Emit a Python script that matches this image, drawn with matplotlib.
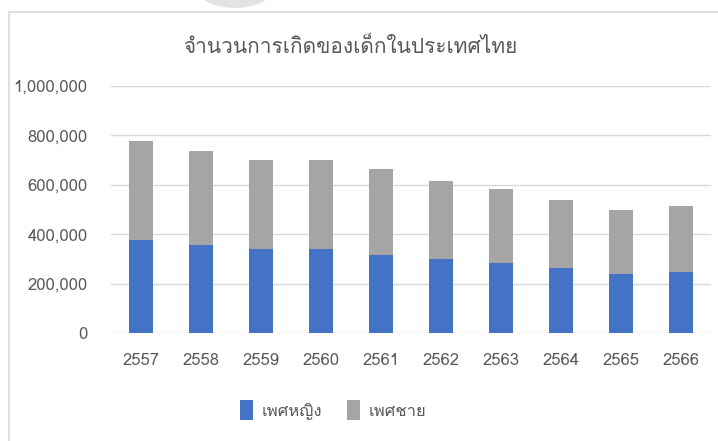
import matplotlib
matplotlib.use("Agg")
import matplotlib.pyplot as plt
from matplotlib import font_manager
from matplotlib.ft2font import FT2Font
from matplotlib.patches import Rectangle, Ellipse
import numpy as np

years = ['2557', '2558', '2559', '2560', '2561', '2562', '2563', '2564', '2565', '2566']
female = [375000, 355000, 340000, 340000, 318000, 300000, 283000, 262000, 241000, 247000]
male = [401000, 380000, 359000, 359000, 344000, 317000, 302000, 276000, 257000, 266000]
yticks = [0, 200000, 400000, 600000, 800000, 1000000]

title = 'จำนวนการเกิดของเด็กในประเทศไทย'
labels = ['เพศหญิง', 'เพศชาย']

# find a font that actually has Thai glyphs, if any is installed
thai = None
for f in font_manager.fontManager.ttflist:
    try:
        if 0x0E08 in FT2Font(f.fname).get_charmap():
            thai = f.name
            break
    except Exception:
        pass

installed = {f.name for f in font_manager.fontManager.ttflist}
fams = [n for n in ['Liberation Sans Narrow', thai, 'DejaVu Sans'] if n and n in installed]
plt.rcParams['font.family'] = fams

grey_txt = '#595959'
blue = '#4472C4'
grey = '#A5A5A5'

fig = plt.figure(figsize=(7.18, 4.41), dpi=100)

# chart border and the bit of watermark poking in at the top
fig.patches.append(Rectangle((9 / 718, -0.1), 1.2, 1 - 12 / 441 + 0.1, transform=fig.transFigure,
                             fill=False, edgecolor='#d9d9d9', lw=1.2))
fig.patches.append(Ellipse((235 / 718, 1 + 14 / 441), 80 / 718, 44 / 441, transform=fig.transFigure,
                           facecolor='#e3e3e3', edgecolor='none'))

ax = fig.add_axes([111 / 718, 1 - 333.3 / 441, 600 / 718, 247.5 / 441])
x = np.arange(len(years))
ax.bar(x, female, width=0.4, color=blue, label=labels[0], zorder=3)
ax.bar(x, male, width=0.4, bottom=female, color=grey, label=labels[1], zorder=3)

ax.set_xlim(-0.5, len(years) - 0.5)
ax.set_ylim(0, 1000000)
ax.set_xticks(x)
ax.set_xticklabels(years)
ax.set_yticks(yticks)
ax.set_yticklabels([f'{v:,}' for v in yticks])
ax.tick_params(length=0, colors=grey_txt, labelsize=12)
ax.tick_params(axis='x', pad=14)
ax.tick_params(axis='y', pad=17)
ax.grid(axis='y', color='#d9d9d9', lw=1, zorder=0)
for s in ax.spines.values():
    s.set_visible(False)

fig.text(350 / 718, 1 - 47 / 441, title, ha='center', va='center', fontsize=15, color=grey_txt)

fig.legend(loc='center', bbox_to_anchor=(333 / 718, 1 - 410 / 441), ncol=2, frameon=False,
           fontsize=12, labelcolor=grey_txt, handlelength=0.8, handleheight=1.5,
           handletextpad=0.5, columnspacing=1.5)

fig.savefig('out.png', dpi=100)
